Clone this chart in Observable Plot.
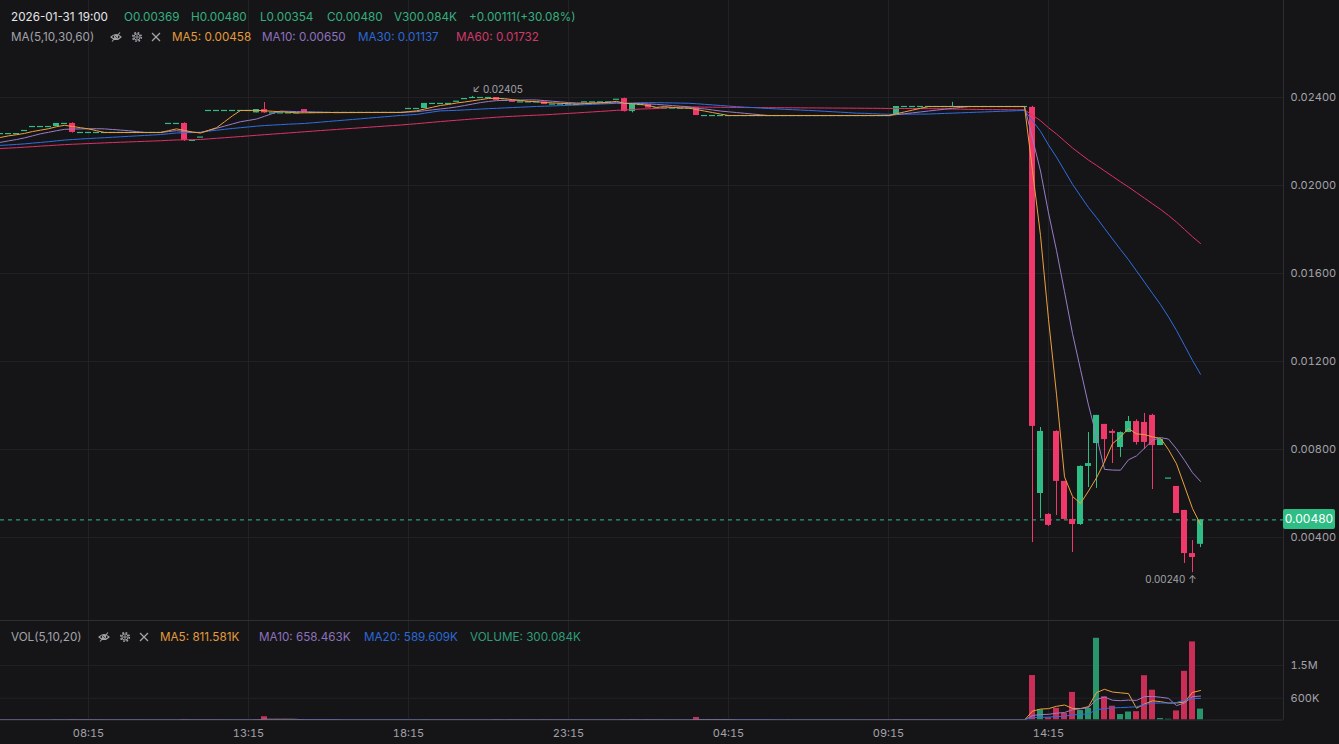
<!DOCTYPE html>
<html>
<head>
<meta charset="utf-8">
<script src="https://cdn.jsdelivr.net/npm/d3@7"></script>
<script src="https://cdn.jsdelivr.net/npm/@observablehq/plot@0.6"></script>
<style>
html,body{margin:0;padding:0;background:#151518;}
body{width:1339px;height:744px;position:relative;overflow:hidden;font-family:Inter,"Noto Sans","DejaVu Sans",sans-serif;}
.t{position:absolute;white-space:nowrap;font-size:11.7px;line-height:14px;}
.ic{position:absolute;width:12px;height:12px;}
#main{position:absolute;left:0;top:0;}
#vol{position:absolute;left:0;top:620px;}
svg{display:block}
</style>
</head>
<body>
<div id="main"></div>
<div id="vol"></div>
<div style="position:absolute;left:0;top:620px;width:1339px;height:1px;background:#2e2e33"></div>

<div class="t" style="left:11px;top:10px;color:#e6e6e8">2026-01-31 19:00</div>
<div class="t" style="left:124px;top:10px;color:#35b07f">O0.00369</div>
<div class="t" style="left:191px;top:10px;color:#35b07f">H0.00480</div>
<div class="t" style="left:260px;top:10px;color:#35b07f">L0.00354</div>
<div class="t" style="left:327px;top:10px;color:#35b07f">C0.00480</div>
<div class="t" style="left:394px;top:10px;color:#35b07f">V300.084K</div>
<div class="t" style="left:469px;top:10px;color:#35b07f">+0.00111(+30.08%)</div>

<div class="t" style="left:11px;top:30px;color:#a3a3a8">MA(5,10,30,60)</div>
<svg class="ic" style="left:110px;top:31px" viewBox="0 0 12 12"><path d="M1 6 Q6 1 11 6 Q6 11 1 6Z" fill="none" stroke="#a3a3a8" stroke-width="1.1"/><circle cx="6" cy="6" r="1.6" fill="none" stroke="#a3a3a8" stroke-width="1.1"/><line x1="2" y1="10.5" x2="10" y2="1.5" stroke="#a3a3a8" stroke-width="1.1"/></svg>
<svg class="ic" style="left:131px;top:31px" viewBox="0 0 12 12"><circle cx="6" cy="6" r="4.3" fill="none" stroke="#a3a3a8" stroke-width="1.6" stroke-dasharray="1.7 1.7"/><circle cx="6" cy="6" r="3.1" fill="none" stroke="#a3a3a8" stroke-width="1"/><circle cx="6" cy="6" r="1.2" fill="none" stroke="#a3a3a8" stroke-width="1"/></svg>
<svg class="ic" style="left:150px;top:31px" viewBox="0 0 12 12"><line x1="2" y1="2" x2="10" y2="10" stroke="#a3a3a8" stroke-width="1.2"/><line x1="10" y1="2" x2="2" y2="10" stroke="#a3a3a8" stroke-width="1.2"/></svg>
<div class="t" style="left:172px;top:30px;color:#e39b3b">MA5: 0.00458</div>
<div class="t" style="left:262px;top:30px;color:#8e72bc">MA10: 0.00650</div>
<div class="t" style="left:358px;top:30px;color:#2c68d6">MA30: 0.01137</div>
<div class="t" style="left:456px;top:30px;color:#d13a67">MA60: 0.01732</div>

<div class="t" style="left:11px;top:630px;color:#a3a3a8">VOL(5,10,20)</div>
<svg class="ic" style="left:98px;top:631px" viewBox="0 0 12 12"><path d="M1 6 Q6 1 11 6 Q6 11 1 6Z" fill="none" stroke="#a3a3a8" stroke-width="1.1"/><circle cx="6" cy="6" r="1.6" fill="none" stroke="#a3a3a8" stroke-width="1.1"/><line x1="2" y1="10.5" x2="10" y2="1.5" stroke="#a3a3a8" stroke-width="1.1"/></svg>
<svg class="ic" style="left:119px;top:631px" viewBox="0 0 12 12"><circle cx="6" cy="6" r="4.3" fill="none" stroke="#a3a3a8" stroke-width="1.6" stroke-dasharray="1.7 1.7"/><circle cx="6" cy="6" r="3.1" fill="none" stroke="#a3a3a8" stroke-width="1"/><circle cx="6" cy="6" r="1.2" fill="none" stroke="#a3a3a8" stroke-width="1"/></svg>
<svg class="ic" style="left:138px;top:631px" viewBox="0 0 12 12"><line x1="2" y1="2" x2="10" y2="10" stroke="#a3a3a8" stroke-width="1.2"/><line x1="10" y1="2" x2="2" y2="10" stroke="#a3a3a8" stroke-width="1.2"/></svg>
<div class="t" style="left:160px;top:630px;color:#e39b3b">MA5: 811.581K</div>
<div class="t" style="left:259px;top:630px;color:#8e72bc">MA10: 658.463K</div>
<div class="t" style="left:364px;top:630px;color:#2c68d6">MA20: 589.609K</div>
<div class="t" style="left:470px;top:630px;color:#2e9e77">VOLUME: 300.084K</div>

<script>
// ---- data (15-minute candles, index 0 = 05:30 on 2026-01-30, last = 2026-01-31 19:00) ----
const opens = [
.02236,.02236,.02236,.02250,.02268,.02268,.02268,.02268,.02282,.02282,
.02241,.02241,.02241,.02241,.02241,.02241,.02241,.02241,.02241,.02241,
.02241,.02282,.02282,.02282,.02205,.02220,.02341,.02341,.02341,.02341,
.02341,.02341,.02330,.02345,.02330,.02330,.02330,.02330,.02345,.02332,
.02332,.02332,.02332,.02332,.02332,.02332,.02332,.02332,.02332,.02332,
.02332,.02350,.02350,.02350,.02373,.02373,.02373,.02383,.02395,.02400,
.02400,.02400,.02400,.02387,.02387,.02380,.02380,.02380,.02380,.02370,
.02370,.02370,.02370,.02380,.02380,.02380,.02380,.02392,.02395,.02336,
.02368,.02368,.02352,.02352,.02352,.02352,.02352,.02355,.02318,.02318,
.02318,.02318,.02318,.02318,.02318,.02318,.02318,.02318,.02318,.02318,
.02318,.02318,.02318,.02318,.02318,.02318,.02318,.02318,.02318,.02318,
.02318,.02318,.02322,.02359,.02359,.02359,.02359,.02359,.02359,.02359,
.02359,.02359,.02359,.02359,.02359,.02359,.02359,.02359,.02359,.02355,
.00600,.00505,.00882,.00655,.00482,.00459,.00723,.00827,.00914,.00882,
.00809,.00877,.00927,.00923,.00955,.00818,.00670,.00632,.00523,.00327,.00369];
const highs = [
.02236,.02236,.02236,.02250,.02268,.02268,.02268,.02282,.02282,.02285,
.02241,.02241,.02241,.02241,.02241,.02241,.02241,.02241,.02241,.02241,
.02241,.02282,.02282,.02285,.02205,.02220,.02341,.02341,.02341,.02341,
.02341,.02341,.02345,.02377,.02330,.02330,.02330,.02330,.02345,.02332,
.02332,.02332,.02332,.02332,.02332,.02332,.02332,.02332,.02332,.02332,
.02332,.02350,.02350,.02373,.02373,.02373,.02373,.02383,.02395,.02405,
.02400,.02400,.02400,.02387,.02387,.02380,.02380,.02380,.02380,.02370,
.02370,.02370,.02370,.02380,.02380,.02380,.02380,.02392,.02397,.02370,
.02368,.02368,.02352,.02352,.02352,.02352,.02352,.02355,.02318,.02318,
.02318,.02318,.02318,.02318,.02318,.02318,.02318,.02318,.02318,.02318,
.02318,.02318,.02318,.02318,.02318,.02318,.02318,.02318,.02318,.02318,
.02318,.02318,.02359,.02359,.02359,.02359,.02359,.02359,.02359,.02378,
.02359,.02359,.02359,.02359,.02359,.02359,.02359,.02359,.02359,.02360,
.00900,.00508,.00885,.00655,.00582,.00725,.00877,.00955,.00914,.00890,
.00880,.00950,.00935,.00964,.00960,.00845,.00670,.00632,.00523,.00386,.00480];
const lows = [
.02236,.02236,.02236,.02250,.02268,.02268,.02268,.02268,.02282,.02238,
.02241,.02241,.02241,.02241,.02241,.02241,.02241,.02241,.02241,.02241,
.02241,.02282,.02282,.02200,.02205,.02220,.02341,.02341,.02341,.02341,
.02341,.02341,.02330,.02328,.02330,.02330,.02330,.02330,.02332,.02332,
.02332,.02332,.02332,.02332,.02332,.02332,.02332,.02332,.02332,.02332,
.02332,.02350,.02350,.02350,.02373,.02373,.02373,.02383,.02395,.02400,
.02400,.02400,.02387,.02387,.02378,.02380,.02380,.02380,.02368,.02370,
.02370,.02370,.02370,.02380,.02380,.02380,.02380,.02392,.02334,.02330,
.02368,.02352,.02352,.02352,.02352,.02352,.02352,.02318,.02318,.02318,
.02318,.02318,.02318,.02318,.02318,.02318,.02318,.02318,.02318,.02318,
.02318,.02318,.02318,.02318,.02318,.02318,.02318,.02318,.02318,.02318,
.02318,.02318,.02322,.02359,.02359,.02359,.02359,.02359,.02359,.02359,
.02359,.02359,.02359,.02359,.02359,.02359,.02359,.02359,.02359,.00377,
.00486,.00450,.00500,.00480,.00332,.00455,.00627,.00623,.00741,.00736,
.00764,.00877,.00820,.00800,.00618,.00818,.00670,.00509,.00282,.00240,.00354];
const closes = [
.02236,.02236,.02236,.02250,.02268,.02268,.02268,.02282,.02282,.02241,
.02241,.02241,.02241,.02241,.02241,.02241,.02241,.02241,.02241,.02241,
.02241,.02282,.02282,.02205,.02205,.02220,.02341,.02341,.02341,.02341,
.02341,.02341,.02345,.02330,.02330,.02330,.02330,.02330,.02332,.02332,
.02332,.02332,.02332,.02332,.02332,.02332,.02332,.02332,.02332,.02332,
.02332,.02350,.02350,.02373,.02373,.02373,.02373,.02383,.02395,.02400,
.02400,.02400,.02387,.02387,.02378,.02380,.02380,.02380,.02368,.02370,
.02370,.02370,.02370,.02380,.02380,.02380,.02380,.02392,.02336,.02368,
.02368,.02352,.02352,.02352,.02352,.02352,.02352,.02318,.02318,.02318,
.02318,.02318,.02318,.02318,.02318,.02318,.02318,.02318,.02318,.02318,
.02318,.02318,.02318,.02318,.02318,.02318,.02318,.02318,.02318,.02318,
.02318,.02318,.02359,.02359,.02359,.02359,.02359,.02359,.02359,.02359,
.02359,.02359,.02359,.02359,.02359,.02359,.02359,.02359,.02359,.00905,
.00882,.00455,.00655,.00482,.00459,.00723,.00736,.00955,.00845,.00873,
.00877,.00927,.00832,.00832,.00818,.00845,.00670,.00509,.00327,.00309,.00480];
const volumes = [
0,0,0,0,0,0,0,8000,0,10000,
0,0,0,0,0,0,0,0,0,0,
0,0,0,15000,0,0,0,0,0,0,
0,0,10000,90000,0,0,0,0,8000,0,
0,0,0,0,0,0,0,0,0,0,
0,0,0,8000,0,0,0,0,0,0,
0,0,10000,0,5000,0,0,0,5000,0,
0,0,0,0,0,0,0,0,12000,10000,
0,5000,0,0,0,0,0,70000,0,0,
0,0,0,0,0,0,0,0,0,0,
0,0,0,0,0,0,0,0,0,0,
0,0,12000,0,0,0,0,0,0,0,
0,0,0,0,0,0,0,0,0,1224000,
280000,60000,320000,180000,760000,260000,320000,2250000,640000,380000,
150000,220000,230000,1220000,820000,40000,20000,250000,1340000,2150000,300084];
// closes before the visible window (only feed the moving averages)
const priorCloses = [
.02120,.02121,.02119,.02120,.02122,.02140,.02139,.02141,.02140,.02142,
.02150,.02149,.02151,.02150,.02152,.02160,.02159,.02161,.02160,.02162,
.02170,.02169,.02171,.02170,.02172,.02180,.02178,.02181,.02180,.02182,
.02170,.02171,.02169,.02170,.02172,.02170,.02168,.02171,.02170,.02172,
.02180,.02179,.02181,.02180,.02182,.02180,.02178,.02181,.02180,.02182,
.02170,.02175,.02175,.02176,.02174,.02200,.02210,.02220,.02226];
const timeTickIdx = [11,31,51,71,91,111,131];
const timeTickLabels = ["08:15","13:15","18:15","23:15","04:15","09:15","14:15"];
const priceTicks = [0.004,0.008,0.012,0.016,0.020,0.024];
const volTicks = [600000,1500000];

// ---- styles ----
const G="#2ebd85", R="#f0396a", VG="#29956d", VR="#c92e57";
const C5="#eca13c", C10="#9a7cc6", C30="#2f6ee0", C60="#dc3264";
const GRID="#222226", BORDER="#2d2d32", TXT="#a3a3a8";
const FONT="Inter, 'Noto Sans', sans-serif";

const P = priorCloses.length;
const allC = priorCloses.concat(closes);
const maP = n => closes.map((_, i) => d3.mean(allC.slice(P + i - n + 1, P + i + 1)));
const maV = n => volumes.map((_, i) => d3.mean(volumes.slice(Math.max(0, i - n + 1), i + 1)));
const m5 = maP(5), m10 = maP(10), m30 = maP(30), m60 = maP(60);
const v5 = maV(5), v10 = maV(10), v20 = maV(20);
const rows = closes.map((c, i) => ({i, o: opens[i], h: highs[i], l: lows[i], c, v: volumes[i],
  up: c >= opens[i], m5: m5[i], m10: m10[i], m30: m30[i], m60: m60[i], v5: v5[i], v10: v10[i], v20: v20[i]}));
const bodies = rows.filter(d => d.o !== d.c);
const dojis = rows.filter(d => d.o === d.c);
const last = rows[rows.length - 1];
const hi = rows[d3.maxIndex(rows, d => d.h)];
const lo = rows[d3.minIndex(rows, d => d.l)];
const XMAX = 160.375;
const HW = 0.375;

const main = Plot.plot({
  width: 1339, height: 620, marginLeft: 0, marginRight: 56, marginTop: 0, marginBottom: 0,
  style: {background: "transparent", color: TXT, fontFamily: FONT, fontSize: "11px"},
  x: {domain: [0, XMAX], axis: null, label: null},
  y: {domain: [0.000227, 0.028409], axis: null, label: null},
  color: {type: "identity"},
  marks: [
    Plot.ruleY(priceTicks, {stroke: GRID}),
    Plot.ruleX(timeTickIdx, {stroke: GRID}),
    Plot.ruleX([XMAX], {stroke: BORDER}),
    Plot.axisY(priceTicks, {anchor: "right", label: null, tickSize: 0, tickPadding: 7, tickFormat: d3.format(".5f"), fill: TXT}),
    Plot.ruleY([last.c], {stroke: G, strokeDasharray: "4,4", strokeWidth: 1}),
    Plot.ruleX(rows, {x: "i", y1: "l", y2: "h", stroke: d => d.up ? G : R, strokeWidth: 1, clip: true}),
    Plot.rect(bodies, {x1: d => d.i - HW, x2: d => d.i + HW, y1: d => Math.min(d.o, d.c), y2: d => Math.max(d.o, d.c), fill: d => d.up ? G : R, clip: true}),
    Plot.ruleY(dojis, {y: "c", x1: d => d.i - HW, x2: d => d.i + HW, stroke: G, strokeWidth: 1.2, clip: true}),
    Plot.line(rows, {x: "i", y: "m60", stroke: C60, strokeWidth: 1, clip: true}),
    Plot.line(rows, {x: "i", y: "m30", stroke: C30, strokeWidth: 1, clip: true}),
    Plot.line(rows, {x: "i", y: "m10", stroke: C10, strokeWidth: 1, clip: true}),
    Plot.line(rows, {x: "i", y: "m5", stroke: C5, strokeWidth: 1, clip: true}),
    Plot.text([hi], {x: "i", y: "h", text: d => "↙ " + d.h.toFixed(5), textAnchor: "start", dx: 0, dy: -7, fill: TXT, fontSize: 10}),
    Plot.text([lo], {x: "i", y: "l", text: d => d.l.toFixed(5) + " ↑", textAnchor: "end", dx: 4, dy: 7, fill: TXT, fontSize: 10})
  ]
});
document.getElementById("main").appendChild(main);

// current price tag on the right axis
const yPix = main.scale("y").apply(last.c);
const tag = document.createElement("div");
tag.textContent = last.c.toFixed(5);
Object.assign(tag.style, {position: "absolute", left: "1283px", top: (yPix - 10) + "px", width: "52px", height: "20px",
  lineHeight: "20px", background: G, color: "#ffffff", fontSize: "12px", textAlign: "center", borderRadius: "2px", fontFamily: FONT});
document.body.appendChild(tag);

const fmtVol = d => d >= 1e6 ? (d / 1e6) + "M" : (d / 1e3) + "K";
const vol = Plot.plot({
  width: 1339, height: 124, marginLeft: 0, marginRight: 56, marginTop: 0, marginBottom: 24.5,
  style: {background: "transparent", color: TXT, fontFamily: FONT, fontSize: "11px"},
  x: {domain: [0, XMAX], axis: null, label: null},
  y: {domain: [0, 2.74e6], axis: null, label: null},
  color: {type: "identity"},
  marks: [
    Plot.ruleY(volTicks, {stroke: GRID}),
    Plot.ruleX(timeTickIdx, {stroke: GRID}),
    Plot.ruleX([XMAX], {stroke: BORDER}),
    Plot.ruleY([0], {stroke: BORDER}),
    Plot.axisY(volTicks, {anchor: "right", label: null, tickSize: 0, tickPadding: 7, tickFormat: fmtVol, fill: TXT}),
    Plot.axisX(timeTickIdx, {anchor: "bottom", label: null, tickSize: 0, tickPadding: 9, tickFormat: d => timeTickLabels[timeTickIdx.indexOf(d)], fill: TXT}),
    Plot.rect(rows, {x1: d => d.i - HW, x2: d => d.i + HW, y1: 0, y2: "v", fill: d => d.up ? VG : VR, clip: true}),
    Plot.line(rows, {x: "i", y: "v5", stroke: C5, strokeWidth: 1, clip: true}),
    Plot.line(rows, {x: "i", y: "v10", stroke: C10, strokeWidth: 1, clip: true}),
    Plot.line(rows, {x: "i", y: "v20", stroke: C30, strokeWidth: 1, clip: true})
  ]
});
document.getElementById("vol").appendChild(vol);
</script>
</body>
</html>
